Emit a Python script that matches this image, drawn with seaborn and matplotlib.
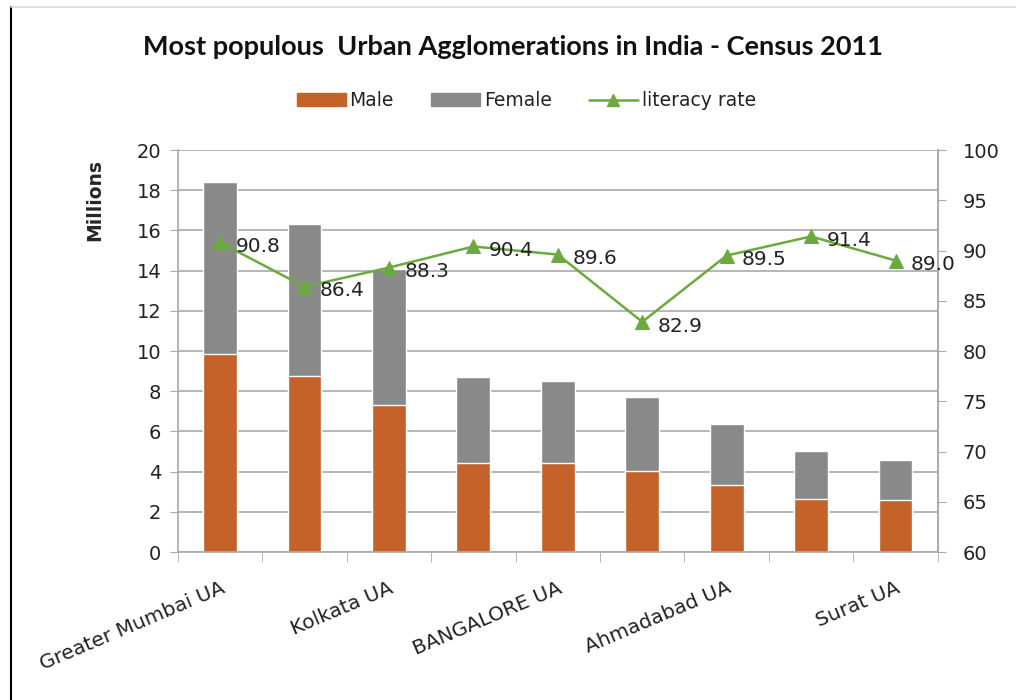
import matplotlib
matplotlib.use("Agg")
import matplotlib.pyplot as plt
from matplotlib.lines import Line2D
from matplotlib.patches import Patch
import numpy as np
import pandas as pd
import seaborn as sns

cities = ["Greater Mumbai UA", "Delhi UA", "Kolkata UA", "Chennai UA", "BANGALORE UA",
          "Hyderabad UA", "Ahmadabad UA", "Pune UA", "Surat UA"]
total = [18.4, 16.3, 14.1, 8.7, 8.5, 7.7, 6.35, 5.05, 4.6]
male = [9.85, 8.75, 7.3, 4.45, 4.45, 4.05, 3.35, 2.65, 2.6]
literacy = [90.8, 86.4, 88.3, 90.4, 89.6, 82.9, 89.5, 91.4, 89.0]
shown_labels = ["Greater Mumbai UA", "Kolkata UA", "BANGALORE UA", "Ahmadabad UA", "Surat UA"]

df = pd.DataFrame({"city": cities, "total": total, "male": male, "literacy": literacy})
df["pos"] = np.arange(len(df))

sns.set_style("white")
plt.rcParams["font.family"] = ["DejaVu Sans"]

male_c = "#C4622A"
female_c = "#898989"
line_c = "#6BAA3E"
grid_c = "#A9A9A9"
txt_c = "#222222"

fig = plt.figure(figsize=(10.16, 7.0), dpi=100)
ax = fig.add_axes([0.175, 0.2114, 0.748, 0.5743])

sns.barplot(data=df, x="city", y="total", color=female_c, width=0.4, ax=ax,
            saturation=1, order=cities)
sns.barplot(data=df, x="city", y="male", color=male_c, width=0.4, ax=ax,
            saturation=1, order=cities)

ax.set_xlim(-0.5, len(cities) - 0.5)
ax.set_ylim(0, 20)
ax.set_yticks(np.arange(0, 21, 2))
ax.yaxis.grid(True, color=grid_c, linewidth=1.2)
ax.set_axisbelow(True)
ax.tick_params(axis="y", labelsize=14, length=6, color=grid_c, left=True, pad=6,
               labelcolor=txt_c)
ax.set_ylabel("Millions", fontsize=13.5, fontweight="bold")
ax.yaxis.set_label_coords(-0.097, 0.875)
ax.set_xlabel("")

# category labels only on every other city
ax.set_xticks([cities.index(c) for c in shown_labels])
ax.set_xticklabels(shown_labels, rotation=23, ha="right", va="top",
                   rotation_mode="anchor", fontsize=14.5, color=txt_c)
ax.tick_params(axis="x", length=0, pad=19)
ax.set_xticks(np.arange(-0.5, len(cities), 1), minor=True)
ax.tick_params(axis="x", which="minor", length=7, color=grid_c, bottom=True, direction="out")

ax.spines["top"].set_visible(False)
for s in ["left", "bottom", "right"]:
    ax.spines[s].set_color(grid_c)
    ax.spines[s].set_linewidth(1.2)

ax2 = ax.twinx()
sns.lineplot(data=df, x="pos", y="literacy", color=line_c, marker="^", markersize=10,
             markeredgecolor=line_c, linewidth=1.8, ax=ax2)
ax2.set_ylim(60, 100)
ax2.set_yticks(np.arange(60, 101, 5))
ax2.tick_params(axis="y", labelsize=14, length=6, color=grid_c, right=True, pad=12,
                labelcolor=txt_c)
ax2.set_ylabel("")
ax2.set_xlabel("")
ax2.set_xlim(-0.5, len(cities) - 0.5)
for s in ["top", "left", "bottom"]:
    ax2.spines[s].set_visible(False)
ax2.spines["right"].set_color(grid_c)
ax2.spines["right"].set_linewidth(1.2)

for x, v in zip(df["pos"], df["literacy"]):
    ax2.annotate(f"{v:.1f}", (x, v), xytext=(11, -3), textcoords="offset points",
                 ha="left", va="center", fontsize=14.5, color=txt_c)

fig.text(0.505, 0.933, "Most populous  Urban Agglomerations in India - Census 2011",
         ha="center", va="center", fontsize=19.5, fontweight="bold",
         family=["Lato", "DejaVu Sans"], color="#111111")

handles = [Patch(color=male_c), Patch(color=female_c),
           Line2D([0], [0], color=line_c, marker="^", markersize=8, linewidth=1.8)]
fig.legend(handles, ["Male", "Female", "literacy rate"], loc="center",
           bbox_to_anchor=(0.518, 0.856), ncol=3, frameon=False, fontsize=13.5,
           handlelength=2.6, handleheight=0.7, columnspacing=2.0, handletextpad=0.2,
           labelcolor=txt_c)

fig.add_artist(Line2D([0.0105, 0.0105], [0, 0.99], color="black", linewidth=1.5,
                      transform=fig.transFigure))
fig.add_artist(Line2D([0.0105, 1], [0.99, 0.99], color="#D9D9D9", linewidth=1.2,
                      transform=fig.transFigure))

fig.savefig("out.png", dpi=100)
